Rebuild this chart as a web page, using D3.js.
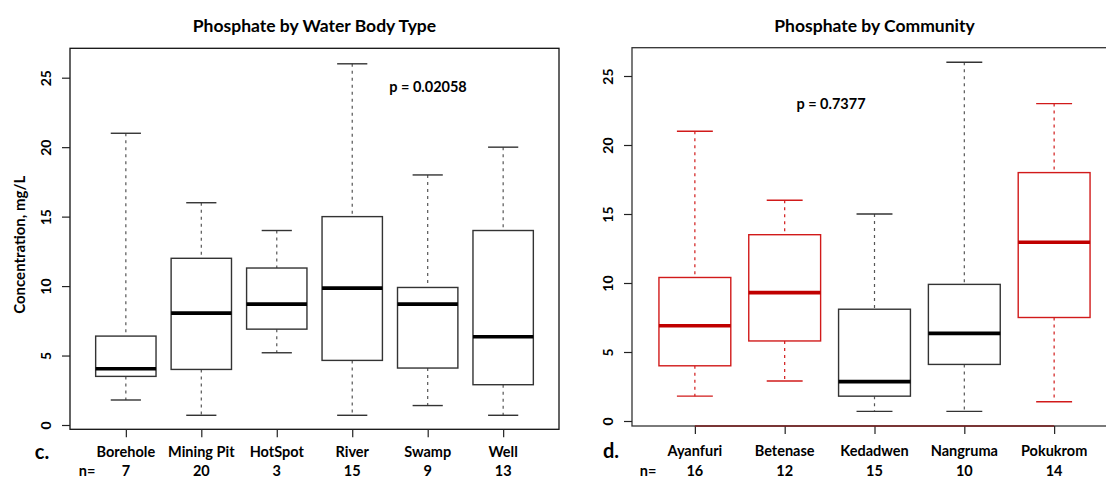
<!DOCTYPE html>
<html>
<head>
<meta charset="utf-8">
<script src="https://cdn.jsdelivr.net/npm/d3@7"></script>
<style>
  html, body { margin: 0; padding: 0; background: #fff; }
  svg { display: block; font-family: Lato, "Open Sans", sans-serif; font-weight: 700; }
</style>
</head>
<body>
<div id="chart"></div>
<script>
// Panel c: phosphate by water body type
const waterTypes = ['Borehole', 'Mining Pit', 'HotSpot', 'River', 'Swamp', 'Well'];
const waterN = [7, 20, 3, 15, 9, 13];
const waterMin = [1.8, 0.7, 5.2, 0.7, 1.4, 0.7];
const waterQ1 = [3.5, 4.0, 6.9, 4.65, 4.1, 2.9];
const waterMed = [4.05, 8.05, 8.7, 9.85, 8.7, 6.35];
const waterQ3 = [6.4, 12.0, 11.3, 15.0, 9.9, 14.0];
const waterMax = [21, 16, 14, 26, 18, 20];
const waterColors = ['black', 'black', 'black', 'black', 'black', 'black'];

// Panel d: phosphate by community
const communities = ['Ayanfuri', 'Betenase', 'Kedadwen', 'Nangruma', 'Pokukrom'];
const commN = [16, 12, 15, 10, 14];
const commMin = [1.8, 2.9, 0.7, 0.7, 1.4];
const commQ1 = [4.0, 5.8, 1.8, 4.1, 7.5];
const commMed = [6.9, 9.3, 2.85, 6.35, 12.95];
const commQ3 = [10.4, 13.5, 8.1, 9.9, 18.0];
const commMax = [21, 16, 15, 26, 23];
const commColors = ['red', 'red', 'black', 'black', 'red'];

const yTicks = [0, 5, 10, 15, 20, 25];

const palette = {
  black: { line: '#333', median: '#000', whisker: '#555' },
  red: { line: '#d11a1a', median: '#c00000', whisker: '#d11a1a' }
};

const svg = d3.select('#chart').append('svg')
  .attr('width', 1106).attr('height', 478);

function drawPanel(opts) {
  const { cats, n, mins, q1, med, q3, maxs, cols } = opts;
  const g = svg.append('g');

  // R style: 4% extended x range around [0.5, k + 0.5]
  const k = cats.length;
  const x = d3.scaleLinear().domain([0.5 - 0.04 * k, k + 0.5 + 0.04 * k]).range(opts.xRange);
  const y = d3.scaleLinear().domain([0, 25]).range(opts.yRange);
  const step = x(2) - x(1);
  const boxW = step * 0.8;

  const rows = cats.map((c, i) => ({
    cat: c, i: i + 1, n: n[i], min: mins[i], q1: q1[i], med: med[i], q3: q3[i], max: maxs[i], col: palette[cols[i]]
  }));

  const [left, right] = opts.xRange;
  const top = opts.frame[0], bottom = opts.frame[1];

  // frame
  g.append('rect')
    .attr('x', left).attr('y', top)
    .attr('width', right - left).attr('height', bottom - top)
    .attr('fill', 'none').attr('stroke', opts.frameColor).attr('stroke-width', 1.3);

  const box = g.selectAll('.box').data(rows).join('g').attr('class', 'box');

  // whiskers
  box.append('line')
    .attr('x1', d => x(d.i)).attr('x2', d => x(d.i))
    .attr('y1', d => y(d.max)).attr('y2', d => y(d.q3))
    .attr('stroke', d => d.col.whisker).attr('stroke-width', 1.2).attr('stroke-dasharray', '3,4');
  box.append('line')
    .attr('x1', d => x(d.i)).attr('x2', d => x(d.i))
    .attr('y1', d => y(d.q1)).attr('y2', d => y(d.min))
    .attr('stroke', d => d.col.whisker).attr('stroke-width', 1.2).attr('stroke-dasharray', '3,4');

  // staples
  ['max', 'min'].forEach(key => {
    box.append('line')
      .attr('x1', d => x(d.i) - boxW / 4).attr('x2', d => x(d.i) + boxW / 4)
      .attr('y1', d => y(d[key])).attr('y2', d => y(d[key]))
      .attr('stroke', d => d.col.line).attr('stroke-width', 1.4);
  });

  // boxes
  box.append('rect')
    .attr('x', d => x(d.i) - boxW / 2).attr('width', boxW)
    .attr('y', d => y(d.q3)).attr('height', d => y(d.q1) - y(d.q3))
    .attr('fill', 'white').attr('stroke', d => d.col.line).attr('stroke-width', 1.4);

  // medians
  box.append('line')
    .attr('x1', d => x(d.i) - boxW / 2).attr('x2', d => x(d.i) + boxW / 2)
    .attr('y1', d => y(d.med)).attr('y2', d => y(d.med))
    .attr('stroke', d => d.col.median).attr('stroke-width', 3.6);

  // y axis
  const yAxis = g.append('g').attr('transform', `translate(${left},0)`)
    .call(d3.axisLeft(y).tickValues(yTicks).tickSize(8).tickPadding(10));
  yAxis.select('.domain').remove();
  yAxis.selectAll('.tick line').attr('stroke', '#222').attr('stroke-width', 1.2);
  yAxis.selectAll('.tick text')
    .attr('transform', 'rotate(-90)')
    .attr('x', 0).attr('y', -19).attr('dy', 0)
    .attr('text-anchor', 'middle')
    .attr('font-size', 14).attr('font-weight', 700).attr('font-family', 'Lato, sans-serif')
    .attr('fill', '#000');

  // x axis
  const xAxis = g.append('g').attr('transform', `translate(0,${bottom})`)
    .call(d3.axisBottom(x).tickValues(rows.map(d => d.i)).tickSize(8).tickFormat(''));
  xAxis.select('.domain').remove();
  xAxis.selectAll('.tick line').attr('stroke', '#222').attr('stroke-width', 1.2);

  if (opts.axisLine) {
    g.append('line')
      .attr('x1', x(1)).attr('x2', x(k))
      .attr('y1', bottom).attr('y2', bottom)
      .attr('stroke', opts.axisLine).attr('stroke-width', 1.6);
  }

  // category labels and counts
  g.selectAll('.cat').data(rows).join('text')
    .attr('x', d => x(d.i)).attr('y', opts.labelY)
    .attr('text-anchor', 'middle').attr('font-size', 14.5)
    .text(d => d.cat);
  g.selectAll('.cnt').data(rows).join('text')
    .attr('x', d => x(d.i)).attr('y', opts.countY)
    .attr('text-anchor', 'middle').attr('font-size', 14.5)
    .text(d => d.n);
  g.append('text')
    .attr('x', opts.nX).attr('y', opts.countY)
    .attr('text-anchor', 'middle').attr('font-size', 14.5)
    .text('n=');
  g.append('text')
    .attr('x', opts.letterX).attr('y', opts.labelY + 2)
    .attr('text-anchor', 'middle').attr('font-size', 20)
    .text(opts.letter);

  // title and p-value
  g.append('text')
    .attr('x', (left + right) / 2).attr('y', 32)
    .attr('text-anchor', 'middle').attr('font-size', 17.5)
    .text(opts.title);
  g.append('text')
    .attr('x', opts.pPos[0]).attr('y', opts.pPos[1])
    .attr('text-anchor', 'middle').attr('font-size', 14.5)
    .text(opts.pText);

  if (opts.yLabel) {
    g.append('text')
      .attr('transform', `translate(25,${(top + bottom) / 2 + 6}) rotate(-90)`)
      .attr('text-anchor', 'middle').attr('font-size', 15)
      .text(opts.yLabel);
  }
}

drawPanel({
  cats: waterTypes, n: waterN, mins: waterMin, q1: waterQ1, med: waterMed, q3: waterQ3, maxs: waterMax, cols: waterColors,
  xRange: [70, 559], yRange: [425, 77.7], frame: [48.3, 429.3], frameColor: '#111',
  title: 'Phosphate by Water Body Type', pText: 'p = 0.02058', pPos: [428, 92],
  letter: 'c.', letterX: 42, nX: 87, labelY: 457, countY: 476,
  yLabel: 'Concentration, mg/L'
});

drawPanel({
  cats: communities, n: commN, mins: commMin, q1: commQ1, med: commMed, q3: commQ3, maxs: commMax, cols: commColors,
  xRange: [632, 1117], yRange: [421, 76], frame: [47.7, 426], frameColor: '#333',
  title: 'Phosphate by Community', pText: 'p = 0.7377', pPos: [831, 109],
  letter: 'd.', letterX: 611, nX: 648, labelY: 456, countY: 476,
  axisLine: '#7a1f1f'
});
</script>
</body>
</html>
